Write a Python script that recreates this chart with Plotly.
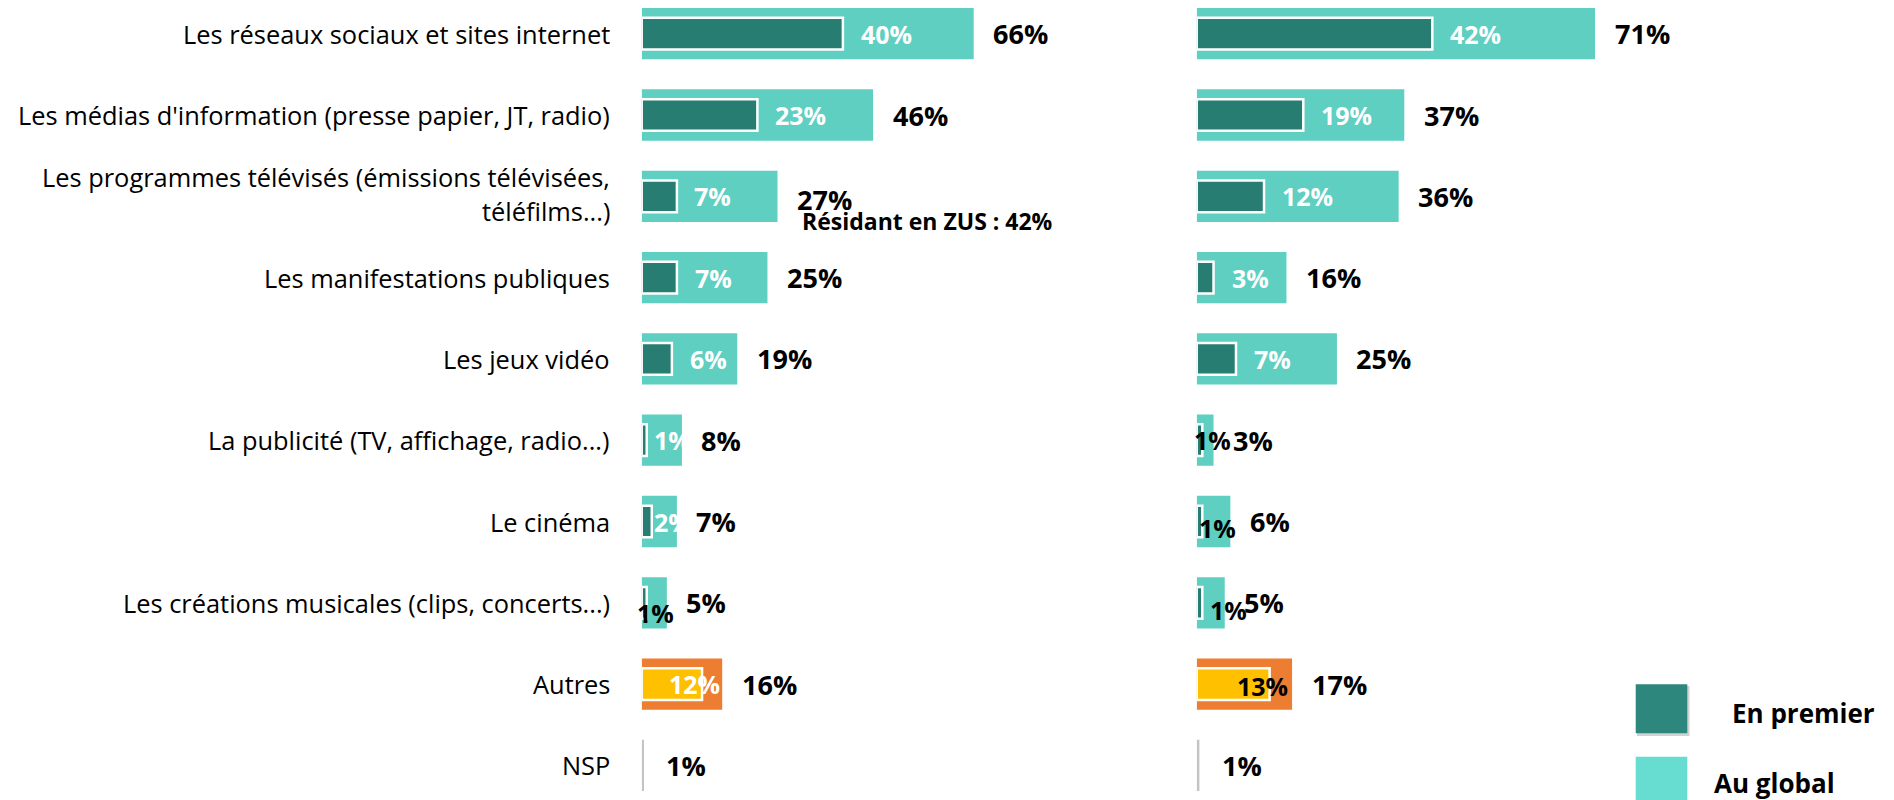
import plotly.graph_objects as go

# ---------------- data ----------------
categories = [
    "Les réseaux sociaux et sites internet",
    "Les médias d'information (presse papier, JT, radio)",
    "Les programmes télévisés (émissions télévisées,<br>téléfilms...)",
    "Les manifestations publiques",
    "Les jeux vidéo",
    "La publicité (TV, affichage, radio...)",
    "Le cinéma",
    "Les créations musicales (clips, concerts...)",
    "Autres",
    "NSP",
]
left_global = [66, 46, 27, 25, 19, 8, 7, 5, 16, 1]
left_first = [40, 23, 7, 7, 6, 1, 2, 1, 12, None]
right_global = [71, 37, 36, 16, 25, 3, 6, 5, 17, 1]
right_first = [42, 19, 12, 3, 7, 1, 1, 1, 13, None]
nsp_drawn = [0.46, 0.48]          # thin grey NSP bars as drawn (left, right)
zus_note = "Résidant en ZUS : 42%"
legend_labels = ["En premier", "Au global"]

# ---------------- style ----------------
W, H = 1894, 800
FONT = "Open Sans"
DARK = "#287D72"
LIGHT = "#5ECFC1"
ORANGE = "#ED7D31"
YELLOW = "#FFC000"
GREY = "#C4C4C4"
LEG_DARK = "#2E877D"
LEG_LIGHT = "#66DDD0"

X0_L, SC_L = 641.7, 5.03
X0_R, SC_R = 1196.7, 5.61

n = len(categories)
ys = list(range(n))

# label tweaks (pixel offsets) for the "first" labels
in_dx_L = [16, 16, 15, 16, 16, 5, 0, -12, -35]
in_dy_L = [0, 0, 0, 0, 0, 0, 0, 10, 0]
in_col_L = ["white"] * 7 + ["black", "white"]
in_dx_R = [16, 16, 16, 16, 16, -10.6, -5.6, 6, -35]
in_dy_R = [0, 0, 0, 0, 0, 0, 6.5, 7, 2]
in_col_R = ["white"] * 5 + ["black"] * 4

fig = go.Figure()


def add_panel(glob, first, nsp_val, xa, ya):
    gcol = [LIGHT] * 8 + [ORANGE] + [GREY]
    gx = list(glob[:9]) + [None]
    fig.add_trace(go.Bar(
        y=ys, x=gx, orientation="h", width=0.631,
        marker=dict(color=gcol, line=dict(width=0)),
        xaxis=xa, yaxis=ya, hoverinfo="skip", showlegend=False))
    fig.add_trace(go.Bar(
        y=[ys[-1]], x=[nsp_val], orientation="h", width=0.631,
        marker=dict(color=GREY, line=dict(width=0)),
        xaxis=xa, yaxis=ya, hoverinfo="skip", showlegend=False))
    fcol = [DARK] * 8 + [YELLOW] + [DARK]
    fig.add_trace(go.Bar(
        y=ys, x=first, orientation="h", width=0.39,
        marker=dict(color=fcol, line=dict(width=2.5, color="white")),
        xaxis=xa, yaxis=ya, hoverinfo="skip", showlegend=False))


add_panel(left_global, left_first, nsp_drawn[0], "x", "y")
add_panel(right_global, right_first, nsp_drawn[1], "x2", "y2")

CAT_SIZE = 25.4
OUT_SIZE = 27
IN_SIZE = 25

ann = []
# category labels
for i, c in enumerate(categories):
    lines = c.split("<br>")
    if len(lines) == 1:
        ann.append(dict(text=c, xref="paper", x=612 / W, xanchor="right",
                        yref="y", y=i, yanchor="middle", showarrow=False,
                        font=dict(family=FONT, size=CAT_SIZE, color="black")))
    else:
        for k, ln in enumerate(lines):
            ann.append(dict(text=ln, xref="paper", x=612 / W, xanchor="right",
                            yref="y", y=i, yanchor="middle", showarrow=False,
                            yshift=[19, -15][k],
                            font=dict(family=FONT, size=CAT_SIZE, color="black")))

# value labels
for xr, glob, first, dxs, dys, cols in [
        ("x", left_global, left_first, in_dx_L, in_dy_L, in_col_L),
        ("x2", right_global, right_first, in_dx_R, in_dy_R, in_col_R)]:
    yr = "y" if xr == "x" else "y2"
    for i in range(n):
        ann.append(dict(text=f"<b>{glob[i]}%</b>", xref=xr, x=glob[i],
                        xanchor="left", xshift=17.5,
                        yshift=-3 if (xr == "x" and i == 2) else 0,
                        yref=yr, y=i, yanchor="middle", showarrow=False,
                        font=dict(family=FONT, size=OUT_SIZE, color="black")))
        if first[i] is not None:
            ann.append(dict(text=f"<b>{first[i]}%</b>", xref=xr, x=first[i],
                            xanchor="left", xshift=dxs[i], yshift=-dys[i],
                            yref=yr, y=i, yanchor="middle", showarrow=False,
                            font=dict(family=FONT, size=IN_SIZE, color=cols[i])))

# ZUS note
ann.append(dict(text=f"<b>{zus_note}</b>", xref="x", x=left_global[2],
                xanchor="left", xshift=22.5, yref="y", y=2, yshift=-25,
                yanchor="middle", showarrow=False,
                font=dict(family=FONT, size=23, color="black")))

# legend
shapes = []
def px(x): return x / W
def py(y): return 1 - y / H

shapes.append(dict(type="rect", xref="paper", yref="paper",
                   x0=px(1637), x1=px(1689.5), y0=py(736), y1=py(686),
                   fillcolor="#D2D2D2", line=dict(width=0), layer="above"))
shapes.append(dict(type="rect", xref="paper", yref="paper",
                   x0=px(1635.7), x1=px(1687.3), y0=py(733.3), y1=py(684.3),
                   fillcolor=LEG_DARK, line=dict(width=0), layer="above"))
shapes.append(dict(type="rect", xref="paper", yref="paper",
                   x0=px(1635.7), x1=px(1687.3), y0=py(805), y1=py(756.7),
                   fillcolor=LEG_LIGHT, line=dict(width=0), layer="above"))
ann.append(dict(text=f"<b>{legend_labels[0]}</b>", xref="paper", x=px(1730),
                xanchor="left", yref="paper", y=py(713), yanchor="middle",
                showarrow=False, font=dict(family=FONT, size=26, color="black")))
ann.append(dict(text=f"<b>{legend_labels[1]}</b>", xref="paper", x=px(1711.7),
                xanchor="left", yref="paper", y=py(783.3), yanchor="middle",
                showarrow=False, font=dict(family=FONT, size=26, color="black")))

yrange = [9.4255, -0.4145]
axis_off = dict(showgrid=False, zeroline=False, showticklabels=False,
                showline=False, ticks="")
fig.update_layout(
    width=W, height=H,
    margin=dict(l=0, r=0, t=0, b=0),
    paper_bgcolor="white", plot_bgcolor="white",
    barmode="overlay",
    xaxis=dict(domain=[X0_L / W, (X0_L + 100 * SC_L) / W], range=[0, 100],
               fixedrange=True, **axis_off),
    xaxis2=dict(domain=[X0_R / W, (X0_R + 100 * SC_R) / W], range=[0, 100],
                fixedrange=True, anchor="y2", **axis_off),
    yaxis=dict(domain=[0, 1], range=yrange, anchor="x", fixedrange=True, **axis_off),
    yaxis2=dict(domain=[0, 1], range=yrange, anchor="x2", fixedrange=True, **axis_off),
    annotations=ann, shapes=shapes,
    font=dict(family=FONT),
)

fig.write_html(
    "out.html",
    config={"displayModeBar": False},
    post_script="document.body.style.margin='0px';document.body.style.overflow='hidden';",
)
